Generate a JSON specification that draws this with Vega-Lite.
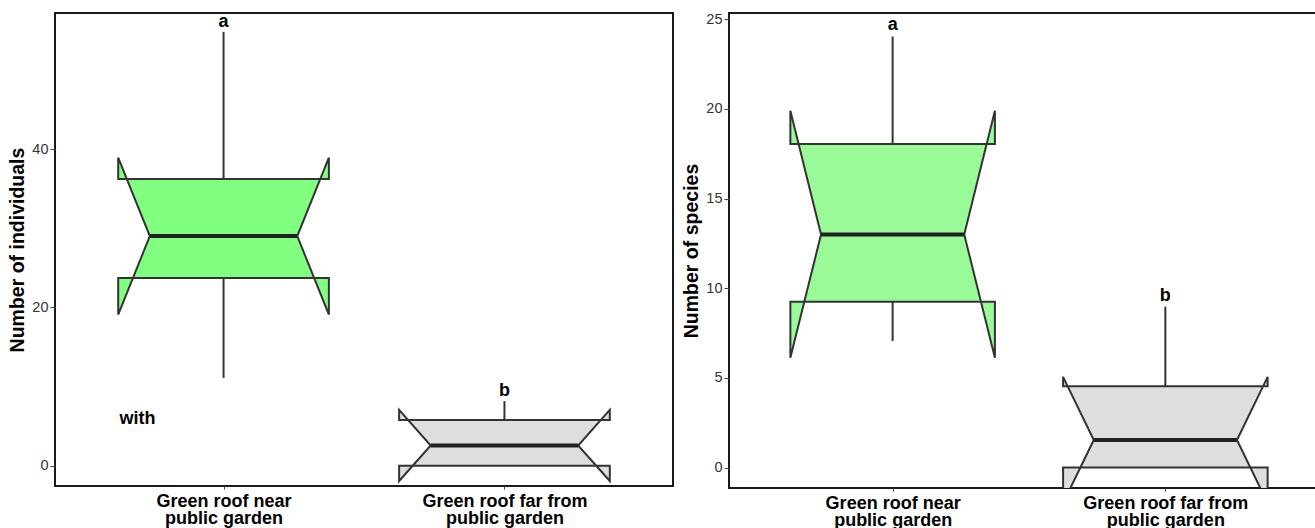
{
  "$schema": "https://vega.github.io/schema/vega-lite/v6.json",
  "background": "white",
  "padding": {"left": 6, "top": 10, "right": 0, "bottom": 0},
  "spacing": 6,
  "config": {
    "view": {"stroke": "#1a1a1a", "strokeWidth": 2},
    "axis": {"domain": false, "grid": false, "tickColor": "#444", "labelColor": "#333", "labelFont": "Liberation Sans", "labelFontSize": 14.5, "titleFont": "Liberation Sans", "titleFontWeight": "bold", "titleColor": "black", "titleFontSize": 19.5},
    "axisY": {"tickSize": 5, "labelPadding": 2, "titlePadding": 4},
    "axisX": {"tickSize": 3, "labelPadding": 3, "labelFontWeight": "bold", "labelColor": "black", "labelFontSize": 18, "labelLineHeight": 17.5, "labelBaseline": "top"}
  },
  "hconcat": [
    {
      "width": 618,
      "height": 473,
      "data": {"values": [
        {"group": "near", "lower": 11.1, "q1": 23.7, "med": 29.0, "q3": 36.2, "upper": 54.8, "nl": 19.1, "nu": 38.9, "letter": "a"},
        {"group": "far", "lower": 0, "q1": 0, "med": 2.56, "q3": 5.77, "upper": 8.16, "nl": -1.93, "nu": 7.05, "letter": "b"}
      ]},
      "transform": [{"calculate": "datum.group === 'near' ? 1 : 2", "as": "gi"}],
      "layer": [
        {
          "mark": {"type": "rule", "color": "#333", "strokeWidth": 2},
          "encoding": {
            "x": {"field": "gi", "type": "quantitative", "scale": {"domain": [0.4, 2.6], "nice": false, "zero": false}, "axis": {"title": null, "values": [1, 2], "labelExpr": "datum.value == 1 ? ['Green roof near', 'public garden'] : ['Green roof far from', 'public garden']"}},
            "y": {"field": "q3", "type": "quantitative", "scale": {"domain": [-2.56, 57.18], "nice": false, "zero": false}, "axis": {"title": "Number of individuals", "values": [0, 20, 40]}},
            "y2": {"field": "upper"}
          }
        },
        {
          "mark": {"type": "rule", "color": "#333", "strokeWidth": 2},
          "encoding": {
            "x": {"field": "gi", "type": "quantitative"},
            "y": {"field": "q1", "type": "quantitative"},
            "y2": {"field": "lower"}
          }
        },
        {
          "transform": [
            {"filter": "datum.group === 'near'"},
            {"calculate": "-1", "as": "sL"},
            {"calculate": "1", "as": "sR"},
            {"fold": ["sL", "sR"], "as": ["sname", "side"]},
            {"fold": ["q3", "nu", "med", "nl", "q1"], "as": ["stat", "yv"]},
            {"calculate": "datum.gi + datum.side * (datum.stat === 'med' ? 0.2625 : 0.375)", "as": "px"},
            {"calculate": "datum.side < 0 ? indexof(['q3','nu','med','nl','q1'], datum.stat) : 9 - indexof(['q3','nu','med','nl','q1'], datum.stat)", "as": "ord"}
          ],
          "mark": {"type": "line", "interpolate": "linear-closed", "fill": "#80ff80", "stroke": "#333", "strokeWidth": 2, "clip": true},
          "encoding": {
            "x": {"field": "px", "type": "quantitative"},
            "y": {"field": "yv", "type": "quantitative"},
            "order": {"field": "ord", "type": "quantitative"}
          }
        },
        {
          "transform": [
            {"filter": "datum.group === 'far'"},
            {"calculate": "-1", "as": "sL"},
            {"calculate": "1", "as": "sR"},
            {"fold": ["sL", "sR"], "as": ["sname", "side"]},
            {"fold": ["q3", "nu", "med", "nl", "q1"], "as": ["stat", "yv"]},
            {"calculate": "datum.gi + datum.side * (datum.stat === 'med' ? 0.2625 : 0.375)", "as": "px"},
            {"calculate": "datum.side < 0 ? indexof(['q3','nu','med','nl','q1'], datum.stat) : 9 - indexof(['q3','nu','med','nl','q1'], datum.stat)", "as": "ord"}
          ],
          "mark": {"type": "line", "interpolate": "linear-closed", "fill": "#dedede", "stroke": "#333", "strokeWidth": 2, "clip": true},
          "encoding": {
            "x": {"field": "px", "type": "quantitative"},
            "y": {"field": "yv", "type": "quantitative"},
            "order": {"field": "ord", "type": "quantitative"}
          }
        },
        {
          "transform": [
            {"calculate": "datum.gi - 0.2625", "as": "mx"},
            {"calculate": "datum.gi + 0.2625", "as": "mx2"}
          ],
          "mark": {"type": "rule", "color": "#222", "strokeWidth": 4},
          "encoding": {
            "x": {"field": "mx", "type": "quantitative"},
            "x2": {"field": "mx2"},
            "y": {"field": "med", "type": "quantitative"}
          }
        },
        {
          "mark": {"type": "text", "font": "Liberation Sans", "fontWeight": "bold", "fontSize": 18, "color": "black", "baseline": "middle", "dy": -10},
          "encoding": {
            "x": {"field": "gi", "type": "quantitative"},
            "y": {"field": "upper", "type": "quantitative"},
            "text": {"field": "letter"}
          }
        },
        {
          "data": {"values": [{"note": "with", "nx": 0.63, "ny": 5.9}]},
          "mark": {"type": "text", "font": "Liberation Sans", "fontWeight": "bold", "fontSize": 18, "color": "black", "align": "left", "baseline": "middle"},
          "encoding": {
            "x": {"field": "nx", "type": "quantitative"},
            "y": {"field": "ny", "type": "quantitative"},
            "text": {"field": "note"}
          }
        }
      ]
    },
    {
      "width": 600,
      "height": 475,
      "data": {"values": [
        {"group": "near", "lower": 7.06, "q1": 9.25, "med": 13.0, "q3": 18.05, "upper": 24.04, "nl": 6.12, "nu": 19.9, "letter": "a"},
        {"group": "far", "lower": 0, "q1": 0, "med": 1.54, "q3": 4.53, "upper": 8.97, "nl": -1.98, "nu": 5.06, "letter": "b"}
      ]},
      "transform": [{"calculate": "datum.group === 'near' ? 1 : 2", "as": "gi"}],
      "layer": [
        {
          "mark": {"type": "rule", "color": "#333", "strokeWidth": 2},
          "encoding": {
            "x": {"field": "gi", "type": "quantitative", "scale": {"domain": [0.4, 2.6], "nice": false, "zero": false}, "axis": {"title": null, "values": [1, 2], "labelExpr": "datum.value == 1 ? ['Green roof near', 'public garden'] : ['Green roof far from', 'public garden']"}},
            "y": {"field": "q3", "type": "quantitative", "scale": {"domain": [-1.14, 25.35], "nice": false, "zero": false}, "axis": {"title": "Number of species", "values": [0, 5, 10, 15, 20, 25]}},
            "y2": {"field": "upper"}
          }
        },
        {
          "mark": {"type": "rule", "color": "#333", "strokeWidth": 2},
          "encoding": {
            "x": {"field": "gi", "type": "quantitative"},
            "y": {"field": "q1", "type": "quantitative"},
            "y2": {"field": "lower"}
          }
        },
        {
          "transform": [
            {"filter": "datum.group === 'near'"},
            {"calculate": "-1", "as": "sL"},
            {"calculate": "1", "as": "sR"},
            {"fold": ["sL", "sR"], "as": ["sname", "side"]},
            {"fold": ["q3", "nu", "med", "nl", "q1"], "as": ["stat", "yv"]},
            {"calculate": "datum.gi + datum.side * (datum.stat === 'med' ? 0.2625 : 0.375)", "as": "px"},
            {"calculate": "datum.side < 0 ? indexof(['q3','nu','med','nl','q1'], datum.stat) : 9 - indexof(['q3','nu','med','nl','q1'], datum.stat)", "as": "ord"}
          ],
          "mark": {"type": "line", "interpolate": "linear-closed", "fill": "#98fb98", "stroke": "#333", "strokeWidth": 2, "clip": true},
          "encoding": {
            "x": {"field": "px", "type": "quantitative"},
            "y": {"field": "yv", "type": "quantitative"},
            "order": {"field": "ord", "type": "quantitative"}
          }
        },
        {
          "transform": [
            {"filter": "datum.group === 'far'"},
            {"calculate": "-1", "as": "sL"},
            {"calculate": "1", "as": "sR"},
            {"fold": ["sL", "sR"], "as": ["sname", "side"]},
            {"fold": ["q3", "nu", "med", "nl", "q1"], "as": ["stat", "yv"]},
            {"calculate": "datum.gi + datum.side * (datum.stat === 'med' ? 0.2625 : 0.375)", "as": "px"},
            {"calculate": "datum.side < 0 ? indexof(['q3','nu','med','nl','q1'], datum.stat) : 9 - indexof(['q3','nu','med','nl','q1'], datum.stat)", "as": "ord"}
          ],
          "mark": {"type": "line", "interpolate": "linear-closed", "fill": "#dedede", "stroke": "#333", "strokeWidth": 2, "clip": true},
          "encoding": {
            "x": {"field": "px", "type": "quantitative"},
            "y": {"field": "yv", "type": "quantitative"},
            "order": {"field": "ord", "type": "quantitative"}
          }
        },
        {
          "transform": [
            {"calculate": "datum.gi - 0.2625", "as": "mx"},
            {"calculate": "datum.gi + 0.2625", "as": "mx2"}
          ],
          "mark": {"type": "rule", "color": "#222", "strokeWidth": 4},
          "encoding": {
            "x": {"field": "mx", "type": "quantitative"},
            "x2": {"field": "mx2"},
            "y": {"field": "med", "type": "quantitative"}
          }
        },
        {
          "mark": {"type": "text", "font": "Liberation Sans", "fontWeight": "bold", "fontSize": 18, "color": "black", "baseline": "middle", "dy": -11},
          "encoding": {
            "x": {"field": "gi", "type": "quantitative"},
            "y": {"field": "upper", "type": "quantitative"},
            "text": {"field": "letter"}
          }
        }
      ]
    }
  ]
}
